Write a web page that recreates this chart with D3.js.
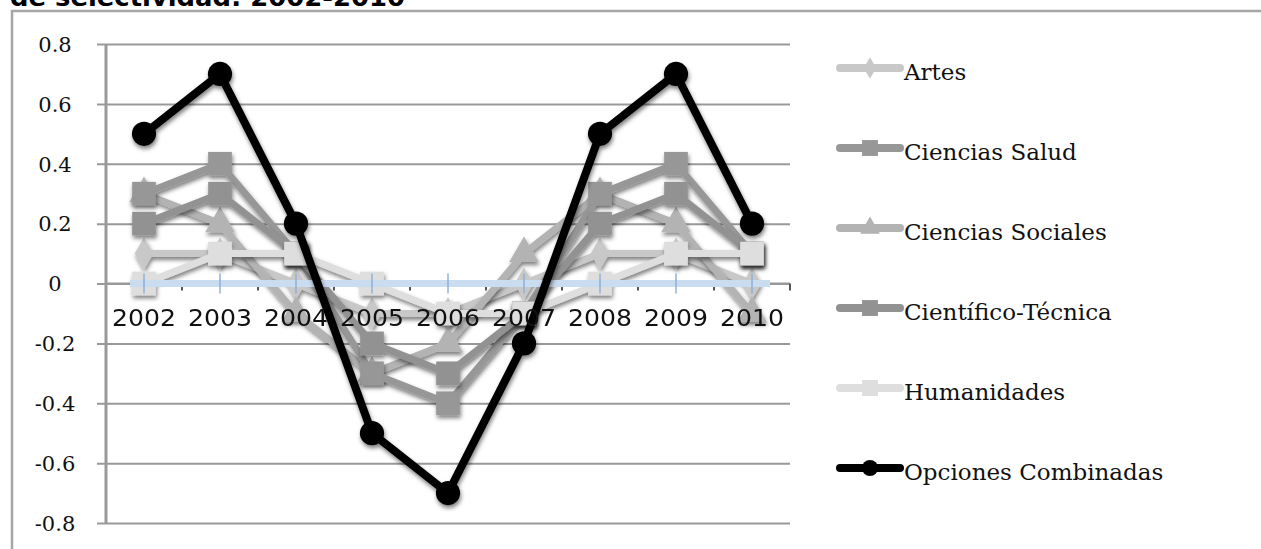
<!DOCTYPE html>
<html>
<head>
<meta charset="utf-8">
<script src="https://cdn.jsdelivr.net/npm/d3@7"></script>
<style>
html,body{margin:0;padding:0;background:#fff;}
svg{display:block;}
</style>
</head>
<body>
<svg id="chart" width="1261" height="549"></svg>
<script>
// ---- data ----
const title = "de selectividad: 2002-2010";
const years = ["2002","2003","2004","2005","2006","2007","2008","2009","2010"];
const yTicks = [0.8,0.6,0.4,0.2,0,-0.2,-0.4,-0.6,-0.8];
const seriesNames = ["Artes","Ciencias Salud","Ciencias Sociales","Científico-Técnica","Humanidades","Opciones Combinadas"];
const artes        = [0.1, 0.1, 0.0, -0.1, -0.1, 0.0, 0.1, 0.1, 0.0];
const cSalud       = [0.3, 0.4, 0.1, -0.3, -0.4, -0.1, 0.3, 0.4, 0.1];
const cSociales    = [0.3, 0.2, -0.1, -0.3, -0.2, 0.1, 0.3, 0.2, -0.1];
const cTecnica     = [0.2, 0.3, 0.1, -0.2, -0.3, -0.1, 0.2, 0.3, 0.1];
const humanidades  = [0.0, 0.1, 0.1, 0.0, -0.1, -0.1, 0.0, 0.1, 0.1];
const combinadas   = [0.5, 0.7, 0.2, -0.5, -0.7, -0.2, 0.5, 0.7, 0.2];
const seriesValues = [artes, cSalud, cSociales, cTecnica, humanidades, combinadas];

// ---- styles ----
const colors = ["#c8c8c8","#979797","#b3b3b3","#929292","#dedede","#000000"];
const shapes = [d3.symbolDiamond, d3.symbolSquare, d3.symbolTriangle, d3.symbolSquare, d3.symbolSquare, d3.symbolCircle];
const markerArea = [300, 560, 380, 560, 560, 460];

const svg = d3.select("#chart");
const defs = svg.append("defs");
const f = defs.append("filter").attr("id","shadow").attr("x","-30%").attr("y","-30%").attr("width","160%").attr("height","160%");
f.append("feDropShadow").attr("dx",1).attr("dy",3).attr("stdDeviation",2).attr("flood-color","#000").attr("flood-opacity",0.5);

// title (cut off at top, as in the reference)
svg.append("text").attr("x",10).attr("y",6)
  .attr("font-family","DejaVu Sans").attr("font-weight","bold").attr("font-size",24)
  .attr("textLength",395).attr("lengthAdjust","spacingAndGlyphs")
  .attr("fill","#000").text(title);

// frame
svg.append("path").attr("d","M12,549 V11 H1261").attr("fill","none").attr("stroke","#a6a6a6").attr("stroke-width",2.5);

const plotL = 106, plotR = 790, plotT = 44, plotB = 523;
const x = d3.scaleBand().domain(years).range([plotL, plotR]).padding(0);
const y = d3.scaleLinear().domain([-0.8, 0.8]).range([plotB, plotT]);
const cx = d => x(d) + x.bandwidth()/2;

// gridlines + y axis
const yAxis = d3.axisLeft(y).tickValues(yTicks).tickSize(-(plotR - plotL)).tickPadding(22)
  .tickFormat(d => d === 0 ? "0" : (d < 0 ? "-" : "") + d3.format(".1f")(Math.abs(d)));
const gy = svg.append("g").attr("transform",`translate(${plotL},0)`).call(yAxis);
gy.select(".domain").remove();
gy.selectAll(".tick line").attr("stroke","#999").attr("stroke-width",2).attr("x1",-9);
gy.selectAll(".tick text").attr("font-family","DejaVu Serif").attr("font-size",21).attr("fill","#111")
  .attr("text-anchor","middle").attr("x",-51).attr("dy","0.35em");
svg.append("line").attr("x1",plotL).attr("x2",plotL).attr("y1",plotT).attr("y2",plotB)
  .attr("stroke","#999").attr("stroke-width",3);

// x axis line at zero
const gx = svg.append("g").attr("transform",`translate(0,${y(0)})`);
gx.append("line").attr("x1",plotL).attr("x2",plotR).attr("stroke","#999").attr("stroke-width",2);
const bounds = years.map(d => x(d)).concat([plotR]).slice(1);
gx.selectAll("line.bt").data(bounds).join("line").attr("class","bt")
  .attr("x1",d=>d).attr("x2",d=>d).attr("y1",0).attr("y2",7).attr("stroke","#555").attr("stroke-width",2);

// series
const line = d3.line().x((d,i)=>cx(years[i])).y(d=>y(d));
function drawSeries(k){
  const g = svg.append("g").attr("filter","url(#shadow)");
  g.append("path").datum(seriesValues[k]).attr("d",line).attr("fill","none")
    .attr("stroke",colors[k]).attr("stroke-width",k===5?8:7).attr("stroke-linejoin","round");
  g.selectAll("path.m").data(seriesValues[k]).join("path").attr("class","m")
    .attr("d", d3.symbol().type(shapes[k]).size(markerArea[k]))
    .attr("transform",(d,i)=>`translate(${cx(years[i])},${y(d)})`)
    .attr("fill",colors[k]);
}
[0,2,1,3,4].forEach(drawSeries);

// light blue zero band with ticks
const zb = svg.append("g").attr("transform",`translate(0,${y(0)})`);
zb.append("line").attr("x1",cx(years[0])-14).attr("x2",cx(years[years.length-1])+18)
  .attr("stroke","#c9dcf0").attr("stroke-width",7);
zb.selectAll("line.ct").data(years).join("line").attr("class","ct")
  .attr("x1",d=>cx(d)).attr("x2",d=>cx(d)).attr("y1",-10).attr("y2",10)
  .attr("stroke","#8fb0d8").attr("stroke-width",1.5);

drawSeries(5);

// x labels on top
svg.append("g").attr("transform",`translate(0,${y(0)})`)
  .selectAll("text").data(years).join("text")
  .attr("x",d=>cx(d)).attr("y",42).attr("text-anchor","middle")
  .attr("font-family","DejaVu Sans").attr("font-size",23).attr("fill","#111")
  .attr("textLength",64).attr("lengthAdjust","spacingAndGlyphs").text(d=>d);

// legend
const lg = svg.append("g");
seriesNames.forEach((name,k) => {
  const ly = 68 + k*80;
  lg.append("line").attr("x1",840).attr("x2",900).attr("y1",ly).attr("y2",ly)
    .attr("stroke",colors[k]).attr("stroke-width",8).attr("stroke-linecap","round");
  lg.append("path").attr("d", d3.symbol().type(shapes[k]).size(markerArea[k]*0.45))
    .attr("transform",`translate(870,${ly})`).attr("fill",colors[k]);
  lg.append("text").attr("x",904).attr("y",ly+12)
    .attr("font-family","DejaVu Serif").attr("font-size",23).attr("fill","#111").text(name);
});
</script>
</body>
</html>
